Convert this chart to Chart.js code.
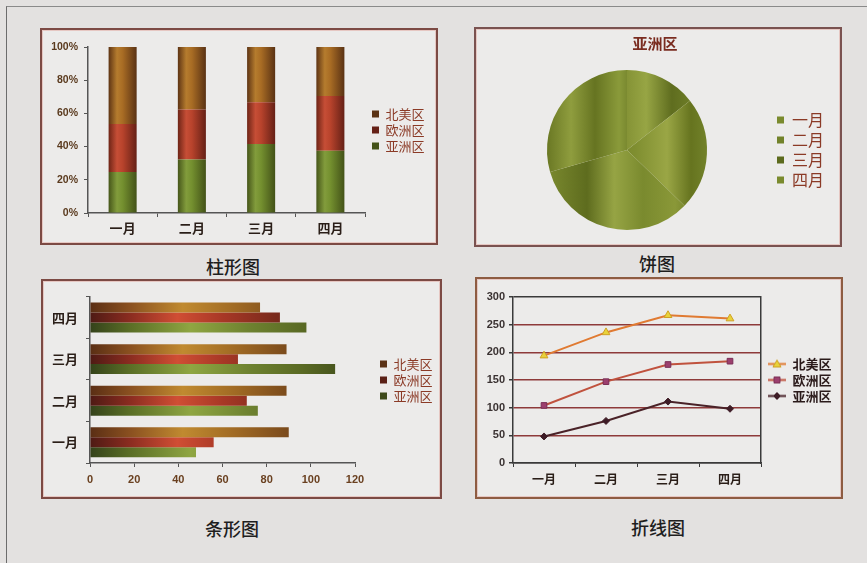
<!DOCTYPE html>
<html><head><meta charset="utf-8">
<script src="https://cdn.jsdelivr.net/npm/chart.js@4.4.1/dist/chart.umd.min.js"></script>
<style>
html,body{margin:0;padding:0;}
body{width:867px;height:563px;background:#e3e1e0;position:relative;overflow:hidden;font-family:"Noto Sans CJK SC",sans-serif;}
.frame{position:absolute;left:6px;top:6px;width:880px;height:580px;border-left:1.5px solid #6c6c6c;border-top:1.5px solid #8a8a8a;}
.panel{position:absolute;box-sizing:border-box;background:#ecebea;border:2px solid #7c4a44;box-shadow:inset 0 0 0 1px rgba(225,170,160,0.55);}
canvas{position:absolute;}
.cap{position:absolute;font-size:18px;font-weight:500;color:#1e1e1e;transform:translateX(-50%);line-height:1;white-space:nowrap;}
</style></head><body>
<div class="frame"></div>
<div class="panel" style="left:40px;top:28px;width:398px;height:217px"></div>
<div class="panel" style="left:474px;top:27px;width:368px;height:220px;border-color:#7a5250"></div>
<div class="panel" style="left:41px;top:279px;width:401px;height:220px"></div>
<div class="panel" style="left:475px;top:277px;width:368px;height:222px;border-color:#8e5c42"></div>
<canvas id="c1" width="394" height="213" style="left:42px;top:30px"></canvas>
<canvas id="c2" width="364" height="216" style="left:476px;top:29px"></canvas>
<canvas id="c3" width="397" height="216" style="left:43px;top:281px"></canvas>
<canvas id="c4" width="364" height="218" style="left:477px;top:279px"></canvas>
<div class="cap" style="left:233px;top:257px">柱形图</div>
<div class="cap" style="left:657px;top:254px">饼图</div>
<div class="cap" style="left:232px;top:519px">条形图</div>
<div class="cap" style="left:658px;top:518px">折线图</div>
<script>
// ---- data ----
const months = ['一月', '二月', '三月', '四月'];
const regionNames = ['北美区', '欧洲区', '亚洲区'];
const northAmerica = [90, 89, 89, 77];
const europe = [56, 71, 67, 86];
const asia = [48, 76, 111, 98];
const pctTicks = ['0%', '20%', '40%', '60%', '80%', '100%'];
const barTicks = ['0', '20', '40', '60', '80', '100', '120'];
const lineTicks = ['0', '50', '100', '150', '200', '250', '300'];

Chart.defaults.animation = false;
Chart.defaults.responsive = false;
Chart.defaults.devicePixelRatio = 1;
Chart.defaults.font.family = '"Noto Sans CJK SC","Liberation Sans",sans-serif';
Chart.defaults.plugins.tooltip.enabled = false;

const NUM_FONT = '"Liberation Sans",Arial,sans-serif';

function lin(ctx, x0, x1, stops) {
  const g = ctx.createLinearGradient(x0, 0, x1, 0);
  stops.forEach(s => g.addColorStop(s[0], s[1]));
  return g;
}

// ---- chart 1: 100% stacked column ----
const totals = months.map((_, i) => northAmerica[i] + europe[i] + asia[i]);
const pct = arr => arr.map((v, i) => v / totals[i] * 100);
const COL_BAR = 0.405;
const colStops = {
  n: [[0, '#5e3414'], [0.3, '#b57c2e'], [0.5, '#a86c24'], [1, '#5a3214']],
  e: [[0, '#6e2416'], [0.3, '#c64e36'], [0.5, '#b8432c'], [1, '#652016']],
  a: [[0, '#46561a'], [0.3, '#829c3c'], [0.5, '#74902f'], [1, '#435218']]
};
function colFill(stops, solid) {
  return (c) => {
    if (c.type !== 'data') return solid;
    const ch = c.chart, xs = ch.scales.x;
    if (!xs || !ch.chartArea) return solid;
    const cx = xs.getPixelForValue(c.dataIndex);
    const half = xs.width / months.length * COL_BAR / 2;
    return lin(ch.ctx, cx - half, cx + half, stops);
  };
}
const gapScale = (w, border) => ({
  type: 'linear', position: 'right', display: true,
  grid: { display: false, drawOnChartArea: false, drawTicks: false },
  border: border ? { display: true, color: '#3a3a3a', width: 1.5 } : { display: false },
  ticks: { display: false },
  afterFit: s => { s.width = w; }
});

new Chart(document.getElementById('c1'), {
  type: 'bar',
  data: {
    labels: months,
    datasets: [
      { label: regionNames[2], data: pct(asia), backgroundColor: colFill(colStops.a, '#6e8a30') },
      { label: regionNames[1], data: pct(europe), backgroundColor: colFill(colStops.e, '#b0402c') },
      { label: regionNames[0], data: pct(northAmerica), backgroundColor: colFill(colStops.n, '#9a6424') }
    ].map(d => Object.assign(d, { categoryPercentage: 1, barPercentage: COL_BAR, borderWidth: 0, xAxisID: 'x', yAxisID: 'y' }))
  },
  options: {
    layout: { padding: { left: 4, top: 17, right: 4, bottom: 0 } },
    scales: {
      x: {
        stacked: true,
        grid: { drawOnChartArea: false, drawTicks: true, tickLength: 4, color: '#555', offset: true },
        border: { display: true, color: '#555', width: 1.5 },
        ticks: { color: '#2a1e18', font: { size: 13, weight: 'bold' }, padding: 3 },
        afterFit: s => { s.height = 30; }
      },
      y: {
        stacked: true, min: 0, max: 100,
        grid: { drawOnChartArea: false, drawTicks: true, tickLength: 4, color: '#555' },
        border: { display: true, color: '#555', width: 1.5 },
        ticks: { stepSize: 20, callback: (v, i) => pctTicks[i], color: '#5a3a1e', font: { size: 10.5, weight: 'bold', family: NUM_FONT }, padding: 6 },
        afterFit: s => { s.width = 42; }
      },
      gap: gapScale(4, false)
    },
    plugins: {
      legend: {
        position: 'right', fullSize: false, align: 'center', reverse: true, maxWidth: 63,
        labels: { boxWidth: 7, boxHeight: 7, padding: 3, color: '#8b3a26', font: { size: 13 } }
      }
    }
  }
});

// ---- chart 2: pie ----
const pieStops = [
  [[0, '#6d7c25'], [0.45, '#7e8c30'], [0.62, '#97a544'], [0.78, '#5f6d1f'], [1, '#7a8a2e']],
  [[0, '#5c6a1c'], [0.55, '#7f8e30'], [0.75, '#9aa645'], [0.9, '#66741f'], [1, '#72822a']],
  [[0, '#7b8a2f'], [0.25, '#5e6c1e'], [0.42, '#96a444'], [0.6, '#7a8a2e'], [0.8, '#8a9838'], [1, '#5c6a1d']],
  [[0, '#6a7824'], [0.15, '#8f9d3e'], [0.3, '#667421'], [0.45, '#8a9a3a'], [0.6, '#5a681b'], [1, '#7a8a2e']]
];
function pieFill(c) {
  const a = c.chart.chartArea;
  if (c.type !== 'data' || !a) return '#7a8a2e';
  const cx = (a.left + a.right) / 2;
  const r = Math.min(a.right - a.left, a.bottom - a.top) / 2;
  return lin(c.chart.ctx, cx - r, cx + r, pieStops[c.dataIndex]);
}
new Chart(document.getElementById('c2'), {
  type: 'pie',
  data: { labels: months, datasets: [{ data: asia, backgroundColor: pieFill, borderWidth: 0 }] },
  options: {
    layout: { padding: { left: 5, right: 11, top: 0, bottom: 15 } },
    plugins: {
      title: { display: true, text: regionNames[2], color: '#7a2c20', font: { size: 15, weight: 'bold' }, padding: { top: 5, bottom: 18 } },
      legend: {
        position: 'right', fullSize: false, align: 'center', maxWidth: 56,
        labels: { boxWidth: 7, boxHeight: 7, padding: 4, color: '#8b3a26', font: { size: 16 } }
      }
    }
  }
});

// ---- chart 3: horizontal bar ----
const hStops = {
  n: [[0, '#5a2e14'], [0.15, '#8a5020'], [0.35, '#c08a30'], [0.55, '#a06a24'], [0.75, '#7a4a1c'], [1, '#5a3216']],
  e: [[0, '#4e1a14'], [0.15, '#8a2c20'], [0.33, '#d04e34'], [0.5, '#a83826'], [0.7, '#7a2a1c'], [1, '#5a2016']],
  a: [[0, '#34421a'], [0.15, '#5a6e26'], [0.38, '#8fa642'], [0.6, '#6e8230'], [0.8, '#5a6a24'], [1, '#3e4a1a']]
};
function hFill(stops, solid) {
  return (c) => {
    const a = c.chart.chartArea;
    if (c.type !== 'data' || !a) return solid;
    return lin(c.chart.ctx, a.left, a.right, stops);
  };
}
new Chart(document.getElementById('c3'), {
  type: 'bar',
  data: {
    labels: months,
    datasets: [
      { label: regionNames[0], data: northAmerica, backgroundColor: hFill(hStops.n, '#9a6424') },
      { label: regionNames[1], data: europe, backgroundColor: hFill(hStops.e, '#b0402c') },
      { label: regionNames[2], data: asia, backgroundColor: hFill(hStops.a, '#6e8a30') }
    ].map(d => Object.assign(d, { categoryPercentage: 0.72, barPercentage: 1, borderWidth: 0, xAxisID: 'x', yAxisID: 'y' }))
  },
  options: {
    indexAxis: 'y',
    layout: { padding: { left: 8, top: 14, right: 0, bottom: 0 } },
    scales: {
      x: {
        min: 0, max: 120,
        grid: { drawOnChartArea: false, drawTicks: true, tickLength: 4, color: '#555' },
        border: { display: true, color: '#555', width: 1.5 },
        ticks: { stepSize: 20, callback: (v, i) => barTicks[i], color: '#6a4020', font: { size: 11, weight: 'bold', family: NUM_FONT }, padding: 6 },
        afterFit: s => { s.height = 34; }
      },
      y: {
        reverse: true,
        grid: { drawOnChartArea: false, drawTicks: true, tickLength: 4, color: '#555', offset: true },
        border: { display: true, color: '#555', width: 1.5 },
        ticks: { color: '#2a1e18', font: { size: 13, weight: 'bold' }, padding: 8 },
        afterFit: s => { s.width = 39; }
      },
      gap: gapScale(22, false)
    },
    plugins: {
      legend: {
        position: 'right', fullSize: false, align: 'center', maxWidth: 63,
        labels: { boxWidth: 7, boxHeight: 7, padding: 3, color: '#8b3a26', font: { size: 13 } }
      }
    }
  }
});

// ---- chart 4: stacked line ----
const lineStyle = {
  n: { line: '#e07a32', style: 'triangle', fill: '#e8d23a', stroke: '#cfa024', r: 4.5 },
  e: { line: '#c0523e', style: 'rect', fill: '#9c3f6e', stroke: '#7a2e55', r: 4 },
  a: { line: '#4a2228', style: 'rectRot', fill: '#3e1c26', stroke: '#3e1c26', r: 3.5 }
};
function legendIcon(s) {
  const c = document.createElement('canvas');
  c.width = 18; c.height = 11;
  const g = c.getContext('2d');
  g.strokeStyle = s.line; g.lineWidth = 2;
  g.beginPath(); g.moveTo(0, 5.5); g.lineTo(18, 5.5); g.stroke();
  g.fillStyle = s.fill; g.strokeStyle = s.stroke; g.lineWidth = 1;
  g.beginPath();
  if (s.style === 'triangle') { g.moveTo(9, 1.5); g.lineTo(13, 8.5); g.lineTo(5, 8.5); g.closePath(); }
  else if (s.style === 'rect') { g.rect(6, 2.5, 6, 6); }
  else { g.moveTo(9, 2); g.lineTo(12.5, 5.5); g.lineTo(9, 9); g.lineTo(5.5, 5.5); g.closePath(); }
  g.fill(); g.stroke();
  return c;
}
const lineSeries = [
  { label: regionNames[2], data: asia, s: lineStyle.a },
  { label: regionNames[1], data: europe, s: lineStyle.e },
  { label: regionNames[0], data: northAmerica, s: lineStyle.n }
];
const icons = lineSeries.map(d => legendIcon(d.s));
new Chart(document.getElementById('c4'), {
  type: 'line',
  data: {
    labels: months,
    datasets: lineSeries.map(d => ({
      label: d.label, data: d.data, borderColor: d.s.line, backgroundColor: d.s.fill, borderWidth: 2,
      pointStyle: d.s.style, pointRadius: d.s.r, pointBackgroundColor: d.s.fill, pointBorderColor: d.s.stroke,
      pointBorderWidth: 1, tension: 0, fill: false, xAxisID: 'x', yAxisID: 'y'
    }))
  },
  options: {
    layout: { padding: { left: 6, top: 18, right: 6, bottom: 0 } },
    scales: {
      x: {
        offset: true,
        grid: { offset: true, drawOnChartArea: false, drawTicks: true, tickLength: 4, color: '#3a3a3a' },
        border: { display: true, color: '#3a3a3a', width: 1.5 },
        ticks: { color: '#2a1e18', font: { size: 12, weight: 'bold' }, padding: 5 },
        afterFit: s => { s.height = 34; }
      },
      y: {
        stacked: true, min: 0, max: 300,
        grid: {
          drawTicks: true, tickLength: 4, lineWidth: 1.5, tickColor: '#3a3a3a',
          color: c => (c.tick && (c.tick.value === 300 || c.tick.value === 0)) ? '#3a3a3a' : '#8e3a3a'
        },
        border: { display: true, color: '#3a3a3a', width: 1.5 },
        ticks: { stepSize: 50, callback: (v, i) => lineTicks[i], color: '#3a3232', font: { size: 11, weight: 'bold', family: NUM_FONT }, padding: 4 },
        afterFit: s => { s.width = 30; }
      },
      gap: gapScale(4, true)
    },
    plugins: {
      legend: {
        position: 'right', fullSize: false, align: 'center', reverse: true, maxWidth: 70,
        labels: {
          usePointStyle: true, pointStyleWidth: 18, padding: 3, color: '#2a1a1a', font: { size: 13, weight: 'bold' },
          generateLabels: (chart) => {
            const items = Chart.defaults.plugins.legend.labels.generateLabels(chart);
            items.forEach(it => { it.pointStyle = icons[it.datasetIndex]; });
            return items;
          }
        }
      }
    }
  }
});
</script>
</body></html>
